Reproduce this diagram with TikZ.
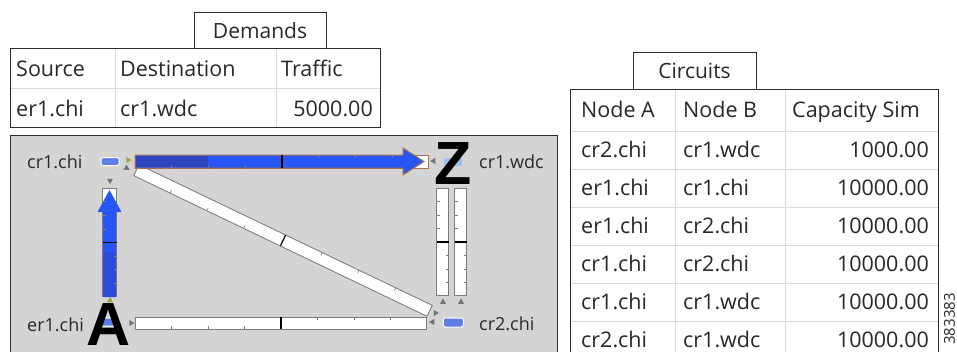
\documentclass[tikz,border=0pt]{standalone}
\usepackage{fontspec}
\setmainfont{Open Sans}
\newfontfamily\bigfont{Liberation Sans}
\usetikzlibrary{calc,decorations.markings,shapes.geometric}
\definecolor{txt}{RGB}{40,40,40}
\definecolor{frame}{RGB}{45,45,45}
\definecolor{gridc}{RGB}{218,218,218}
\definecolor{panelc}{RGB}{212,212,212}
\definecolor{barc}{RGB}{125,125,125}
\definecolor{nodeb}{RGB}{95,125,230}
\definecolor{nodel}{RGB}{160,190,235}
\definecolor{flowb}{RGB}{40,85,245}
\definecolor{flowd}{RGB}{45,70,190}
\definecolor{flowe}{RGB}{170,115,75}
\definecolor{trig}{RGB}{115,115,125}
\definecolor{trio}{RGB}{150,165,60}
\tikzset{
  frameline/.style={draw=frame, line width=1pt},
  gridline/.style={draw=gridc, line width=0.8pt},
  cell/.style={anchor=base west, inner sep=0pt, text=txt, font=\fontsize{21.5}{25}\selectfont},
  numcell/.style={cell, anchor=base east},
  tablabel/.style={inner sep=0pt, text=txt, font=\fontsize{21}{25}\selectfont},
  maplabel/.style={anchor=base west, inner sep=0pt, text=txt, font=\fontsize{18}{22}\selectfont},
  router/.style={rectangle, rounded corners=2pt, minimum width=18pt, minimum height=8pt, inner sep=0pt, fill=nodeb, draw=white, line width=1pt},
  bigletter/.style={inner sep=0pt, text=black, font=\bigfont\bfseries\fontsize{61}{61}\selectfont},
  tri/.style={regular polygon, regular polygon sides=3, minimum size=7pt, inner sep=0pt, fill=trig, draw=none},
  smalltick/.style={draw=barc, line width=0.7pt},
  midtick/.style={draw=black, line width=1.2pt},
  flowline/.style={draw=flowe, line width=1pt, fill=flowb, line join=miter},
  tickmarks/.style={postaction={decorate}, decoration={markings,
    mark=at position 0.125 with {\draw[smalltick] (0,{#1-0.5}) -- (0,{#1-3.5});},
    mark=at position 0.25 with {\draw[smalltick] (0,{#1-0.5}) -- (0,{#1-3.5});},
    mark=at position 0.375 with {\draw[smalltick] (0,{#1-0.5}) -- (0,{#1-3.5});},
    mark=at position 0.625 with {\draw[smalltick] (0,{-#1+0.5}) -- (0,{-#1+3.5});},
    mark=at position 0.75 with {\draw[smalltick] (0,{-#1+0.5}) -- (0,{-#1+3.5});},
    mark=at position 0.875 with {\draw[smalltick] (0,{-#1+0.5}) -- (0,{-#1+3.5});},
    mark=at position 0.5 with {\draw[midtick] (0,{-#1+0.5}) -- (0,{#1-0.5});}}}
}
\begin{document}
\begin{tikzpicture}[x=1pt,y=-1pt]
\useasboundingbox (0,0) rectangle (957,351);
\fill[white] (0,0) rectangle (957,351);

% ---------------- Demands table ----------------
\draw[frameline, fill=white] (194,48) -- (194,12) -- (326,12) -- (326,48);
\node[tablabel] (demtab) at (260,31) {Demands};
\fill[white] (10,48) rectangle (380,127);
\draw[gridline] (10,88) -- (380,88);
\draw[gridline] (115,48) -- (115,127);
\draw[gridline] (276,48) -- (276,127);
\draw[frameline] (10,48) rectangle (380,127);
\node[cell] (dh1) at (16,76.5) {Source};
\node[cell] (dh2) at (120,76.5) {Destination};
\node[cell] (dh3) at (281,76.5) {Traffic};
\node[cell] (dr1) at (16,116) {er1.chi};
\node[cell] (dr2) at (120,116) {cr1.wdc};
\node[numcell] (dr3) at (373,116) {5000.00};

% ---------------- Circuits table ----------------
\draw[frameline, fill=white] (633,89) -- (633,52) -- (756,52) -- (756,89);
\node[tablabel] (cirtab) at (694.5,71) {Circuits};
\fill[white] (570,89) rectangle (938,362);
\foreach \yy in {131,169.5,207,245,283.3,321.7} \draw[gridline] (570,\yy) -- (938,\yy);
\draw[gridline] (675,89) -- (675,362);
\draw[gridline] (785,89) -- (785,362);
\draw[frameline] (570,362) -- (570,89) -- (938,89) -- (938,362);
\node[cell] (ch1) at (581,117) {Node A};
\node[cell] (ch2) at (683,117) {Node B};
\node[cell] (ch3) at (792,117) {Capacity Sim};
\node[cell] (c11) at (581,157.5) {cr2.chi};
\node[cell] (c12) at (683,157.5) {cr1.wdc};
\node[numcell] (c13) at (929,157.5) {1000.00};
\node[cell] (c21) at (581,195.5) {er1.chi};
\node[cell] (c22) at (683,195.5) {cr1.chi};
\node[numcell] (c23) at (929,195.5) {10000.00};
\node[cell] (c31) at (581,233) {er1.chi};
\node[cell] (c32) at (683,233) {cr2.chi};
\node[numcell] (c33) at (929,233) {10000.00};
\node[cell] (c41) at (581,271) {cr1.chi};
\node[cell] (c42) at (683,271) {cr2.chi};
\node[numcell] (c43) at (929,271) {10000.00};
\node[cell] (c51) at (581,309.5) {cr1.chi};
\node[cell] (c52) at (683,309.5) {cr1.wdc};
\node[numcell] (c53) at (929,309.5) {10000.00};
\node[cell] (c61) at (581,347.5) {cr2.chi};
\node[cell] (c62) at (683,347.5) {cr1.wdc};
\node[numcell] (c63) at (929,347.5) {10000.00};

\node[rotate=90, anchor=east, inner sep=0pt, text=txt, font=\fontsize{15}{15}\selectfont] (fignum) at (949.5,293) {383383};

% ---------------- Map panel ----------------
\draw[frameline, fill=panelc] (10,360) -- (10,135) -- (557,135) -- (557,360);

% routers (positions)
\coordinate (pcr1chi) at (110,161.5);
\coordinate (per1chi) at (110,322);
\coordinate (pcr1wdc) at (453,162);
\coordinate (pcr2chi) at (453.3,322.5);

% link end points
\coordinate (t1) at ($(pcr1chi)+(25,0)$);
\coordinate (t2) at ($(pcr1wdc)+(-24,-0.5)$);
\coordinate (v1) at ($(per1chi)+(-0.5,-25)$);
\coordinate (v2) at ($(pcr1chi)+(-0.5,26.5)$);
\coordinate (d1) at ($(pcr1chi)+(26,8.5)$);
\coordinate (d2) at ($(pcr2chi)+(-23.3,-11.5)$);
\coordinate (b1) at ($(per1chi)+(25,1)$);
\coordinate (b2) at ($(pcr2chi)+(-26.3,0.5)$);
\coordinate (r1a) at ($(pcr2chi)+(-10.8,-26.5)$);
\coordinate (r1b) at ($(pcr1wdc)+(-10.5,26)$);
\coordinate (r2a) at ($(pcr2chi)+(7.2,-26.5)$);
\coordinate (r2b) at ($(pcr1wdc)+(7.5,26)$);

% link bars
\draw[draw=barc, line width=13pt] (d1) -- (d2);
\draw[draw=white, line width=11pt, shorten <=1pt, shorten >=1pt] (d1) -- (d2);
\draw[draw=barc, line width=13pt] (b1) -- (b2);
\draw[draw=white, line width=11pt, shorten <=1pt, shorten >=1pt] (b1) -- (b2);
\draw[draw=barc, line width=13pt] (r1a) -- (r1b);
\draw[draw=white, line width=11pt, shorten <=1pt, shorten >=1pt] (r1a) -- (r1b);
\draw[draw=barc, line width=13pt] (r2a) -- (r2b);
\draw[draw=white, line width=11pt, shorten <=1pt, shorten >=1pt] (r2a) -- (r2b);
\draw[draw=barc, line width=15pt] (v1) -- (v2);
\draw[draw=white, line width=13pt, shorten <=1pt, shorten >=1pt] (v1) -- (v2);
\draw[draw=flowe, line width=14pt] (t1) -- (t2);
\draw[draw=white, line width=12pt, shorten <=1pt, shorten >=1pt] (t1) -- (t2);

% traffic flows
\draw[flowline, shift={(t1)}] (0,-6.5) -- (268,-6.5) -- (268,-13.5) -- (289,0) -- (268,13.5) -- (268,6.5) -- (0,6.5) -- cycle;
\fill[flowd] ($(t1)+(0.6,-5.9)$) rectangle ($(t1)+(73,5.9)$);
\fill[flowb, shift={(v1)}] (-6.5,0) -- (-6.5,-85) -- (-12,-85) -- (0,-107) -- (12,-85) -- (6.5,-85) -- (6.5,0) -- cycle;
\fill[flowd, opacity=0.5] ($(v1)+(-6.5,0)$) rectangle ($(v1)+(6.5,-45)$);

% tick marks
\path[tickmarks=7] (t1) -- (t2);
\path[tickmarks=7.5] (v1) -- (v2);
\path[tickmarks=6.5] (d1) -- (d2);
\path[tickmarks=6.5] (b1) -- (b2);
\path[tickmarks=6.5] (r1a) -- (r1b);
\path[tickmarks=6.5] (r2a) -- (r2b);

% routers
\node[router] (cr1chi) at (pcr1chi) {};
\node[router] (er1chi) at (per1chi) {};
\node[router, fill=nodel, draw=none] (cr1wdc) at (pcr1wdc) {};
\node[router, minimum width=20pt, minimum height=9pt] (cr2chi) at (pcr2chi) {};

% direction triangles
\node[tri, fill=trio, shape border rotate=-90] (tra1) at (128,160) {};
\node[tri] (tra2) at (126.5,168) {};
\node[tri, shape border rotate=180] (tra3) at (110,180.5) {};
\node[tri, fill=trio] (tra4) at (110,300.5) {};
\node[tri, shape border rotate=-90] (tra5) at (131,323) {};
\node[tri, shape border rotate=90] (tra6) at (433.5,161) {};
\node[tri] (tra7) at (443,302) {};
\node[tri] (tra8) at (461,302) {};
\node[tri, shape border rotate=150] (tra9) at (435.5,313) {};
\node[tri, shape border rotate=90] (tra10) at (432.5,322) {};

% A and Z
\node[bigletter] (letA) at (109,325) {A};
\node[bigletter] (letZ) at (453.5,163.5) {Z};

% node labels
\node[maplabel] (lcr1chi) at (27,168) {cr1.chi};
\node[maplabel] (ler1chi) at (27,331) {er1.chi};
\node[maplabel] (lcr1wdc) at (479,168) {cr1.wdc};
\node[maplabel] (lcr2chi) at (479,330) {cr2.chi};
\end{tikzpicture}
\end{document}
